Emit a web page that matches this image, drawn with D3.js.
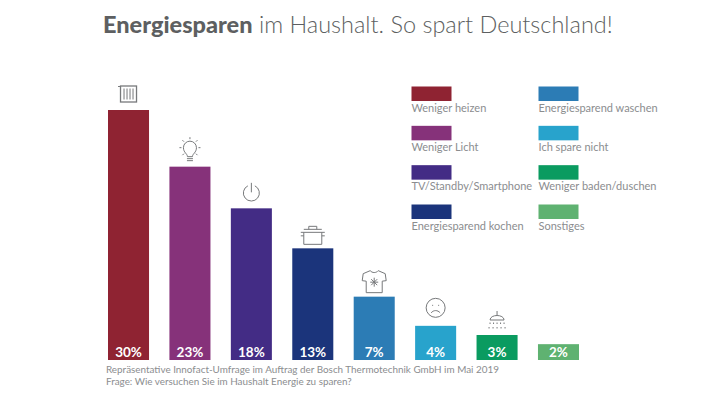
<!DOCTYPE html>
<html>
<head>
<meta charset="utf-8">
<script src="https://cdn.jsdelivr.net/npm/d3@7"></script>
<style>
	html, body { margin: 0; padding: 0; background: #fff; }
	svg { display: block; }
	text { font-family: Lato, "Open Sans", sans-serif; }
	.title { font-size: 23.5px; fill: #5d5f61; font-weight: 300; }
	.title tspan { font-weight: 900; }
	.bar_label { font-size: 13.5px; font-weight: 700; fill: #fff; text-anchor: middle; }
	.legend_label { font-size: 11px; fill: #8b8d8f; }
	.note { font-size: 9.9px; fill: #8b8d8f; }
	.icon * { fill: none; stroke: #77797b; stroke-width: 1; }
</style>
</head>
<body>
<div id="chart"></div>
<script>
const categories = ["Weniger heizen", "Weniger Licht", "TV/Standby/Smartphone", "Energiesparend kochen",
	"Energiesparend waschen", "Ich spare nicht", "Weniger baden/duschen", "Sonstiges"];
// heights, they run a little off the printed labels
const values = [30, 23.2, 18.2, 13.4, 7.6, 4.1, 3, 1.9];
const valueLabels = ["30%", "23%", "18%", "13%", "7%", "4%", "3%", "2%"];
const colors = ["#8f2332", "#86327a", "#432c85", "#1b347b", "#2c7cb5", "#28a3cc", "#0a9b60", "#5fb271"];
const notes = ["Repräsentative Innofact-Umfrage im Auftrag der Bosch Thermotechnik GmbH im Mai 2019",
	"Frage: Wie versuchen Sie im Haushalt Energie zu sparen?"];

const width = 728, height = 409;

const svg = d3.select("#chart").append("svg")
	.attr("width", width)
	.attr("height", height);

// title
let title = svg.append("text")
	.attr("class", "title")
	.attr("x", 103)
	.attr("y", 33);
title.append("tspan").text("Energiesparen");
title.append("tspan").attr("style", "font-weight:300").text(" im Haushalt. So spart Deutschland!");

// scales
let x = d3.scaleBand()
	.domain(categories)
	.range([108, 579])
	.paddingInner(0.332)
	.paddingOuter(0);

let y = d3.scaleLinear()
	.domain([0, 30])
	.range([360, 110]);

// bars
svg.selectAll("rect.bars")
	.data(categories)
	.enter()
	.append("rect")
	.attr("class", "bars")
	.attr("x", d => x(d))
	.attr("y", (d, i) => y(values[i]))
	.attr("width", x.bandwidth())
	.attr("height", (d, i) => y(0) - y(values[i]))
	.attr("fill", (d, i) => colors[i]);

svg.selectAll(".bar_label")
	.data(categories)
	.enter()
	.append("text")
	.attr("class", "bar_label")
	.attr("x", d => x(d) + x.bandwidth() / 2)
	.attr("y", 356.5)
	.text((d, i) => valueLabels[i]);

// legend, two columns of four
let legendX = d3.scalePoint().domain([0, 1]).range([411.5, 538.5]);
let legendY = d3.scalePoint().domain([0, 1, 2, 3]).range([86.5, 204.5]);

let legend = svg.selectAll(".legend")
	.data(categories)
	.enter()
	.append("g")
	.attr("class", "legend")
	.attr("transform", (d, i) => "translate(" + legendX(Math.floor(i / 4)) + "," + legendY(i % 4) + ")");

legend.append("rect")
	.attr("width", 40)
	.attr("height", 14.5)
	.attr("fill", (d, i) => colors[i]);

legend.append("text")
	.attr("class", "legend_label")
	.attr("y", 25)
	.text(d => d);

// footnote
svg.selectAll(".note")
	.data(notes)
	.enter()
	.append("text")
	.attr("class", "note")
	.attr("x", 106)
	.attr("y", (d, i) => 373 + i * 11.5)
	.text(d => d);

// icons above the bars, drawn around (0,0) = bar centre, 0 = bar top
let icon = i => svg.append("g")
	.attr("class", "icon")
	.attr("transform", "translate(" + (x(categories[i]) + x.bandwidth() / 2) + "," + y(values[i]) + ")");

// radiator
let radiator = icon(0);
radiator.append("rect").attr("x", -8).attr("y", -24).attr("width", 16).attr("height", 16).style("stroke-width", 1.3);
[-4.5, -1.5, 1.5, 4.5].forEach(d => radiator.append("path").attr("d", "M" + d + " -21.5V-10.5"));
radiator.append("path").attr("d", "M-10.5 -23.5H-8");

// bulb
let bulb = icon(1);
bulb.append("path").attr("d", "M-3 -8H3M-3 -6H3M-2.5 -10C-2.5 -13 -6.5 -14 -6.5 -19A6.5 6.5 0 0 1 6.5 -19C6.5 -14 2.5 -13 2.5 -10Z");
bulb.append("path").attr("d", "M-10.5 -19H-8.5M8.5 -19H10.5M0 -29.5V-27.5M-7.5 -26.5L-6 -25M7.5 -26.5L6 -25M-7.5 -11.5L-6 -13M7.5 -11.5L6 -13");

// power button
let power = icon(2);
power.append("path").attr("d", "M-3.5 -22.5A8 8 0 1 0 3.5 -22.5M0 -25.5V-16");

// pot
let pot = icon(3);
pot.append("path").attr("d", "M-9 -16V-4H9V-16M-12 -16H12M-12 -12.5H-9M9 -12.5H12M-9 -19H9M-4 -19V-22H4V-19");

// t-shirt
let shirt = icon(4);
shirt.append("path").attr("d", "M-4 -26L-11 -23L-12 -16L-8 -15.500V-4H8V-15.500L12 -16L11 -23L4 -26C2 -23.500 -2 -23.500 -4 -26Z");
shirt.append("path").attr("d", "M0 -19V-10M-4 -14.500H4M-3 -17.500L3 -11.500M3 -17.500L-3 -11.500");

// sad face
let face = icon(5);
face.append("circle").attr("cx", 0).attr("cy", -18).attr("r", 9.5);
face.append("path").attr("d", "M-4.500 -13C-2 -16 2 -16 4.500 -13M-3 -21V-20M3 -21V-20");

// shower
let shower = icon(6);
shower.append("path").attr("d", "M-7 -15C-7 -21 7 -21 7 -15ZM0 -19.500V-24");
shower.append("path").attr("d", "M-7 -12.500V-10.500M-3.500 -12.500V-10.500M0 -12.500V-10.500M3.500 -12.500V-10.500M7 -12.500V-10.500M-8 -8V-6.500M-4 -8V-6.500M0 -8V-6.500M4 -8V-6.500M8 -8V-6.500").style("stroke-dasharray", "1.500 1");
</script>
</body>
</html>
